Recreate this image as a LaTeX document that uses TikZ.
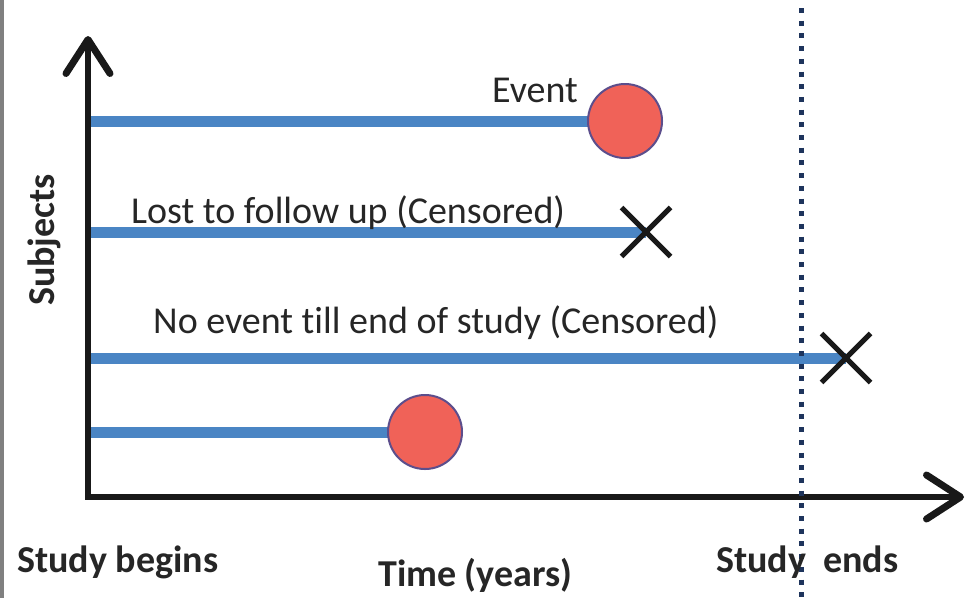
\documentclass[tikz,border=0pt]{standalone}
\usepackage{fontspec}
\setmainfont{Carlito}[Ligatures={NoCommon}]
\usetikzlibrary{arrows.meta,shapes.misc}

\definecolor{lineblue}{RGB}{74,133,196}
\definecolor{evtfill}{RGB}{240,98,88}
\definecolor{evtedge}{RGB}{92,78,140}
\definecolor{dotblue}{RGB}{30,52,92}
\definecolor{axisblack}{RGB}{25,25,25}
\definecolor{framegray}{RGB}{128,128,128}

\tikzset{
  axisline/.style={draw=axisblack, line width=6pt,
    -{Straight Barb[length=34pt, width=44pt, line width=7pt, line cap=round, line join=round]}},
  subjline/.style={draw=lineblue, line width=11pt},
  eventdot/.style={circle, draw=evtedge, fill=evtfill, line width=2pt,
    minimum size=74pt, inner sep=0pt},
  censor/.style={cross out, draw=axisblack, line width=5pt,
    minimum size=44pt, inner sep=0pt},
  studyend/.style={draw=dotblue, line width=5pt, dash pattern=on 5pt off 7.7pt},
  lbl/.style={font=\fontsize{38}{42}\selectfont, text=black!85, inner sep=0pt, anchor=base west},
  boldlbl/.style={font=\fontsize{38}{42}\selectfont\bfseries, text=black!85, inner sep=0pt, anchor=base west}
}

\begin{document}
\begin{tikzpicture}[x=1pt, y=-1pt]
  \useasboundingbox (0,0) rectangle (973,598);
  \fill[white] (0,0) rectangle (973,598);
  % left frame edge
  \fill[framegray] (0,0) rectangle (4,598);

  % axes
  \coordinate (origin) at (88,497);
  \coordinate (ytip) at (88,33);
  \coordinate (xtip) at (964,497);

  % subject time lines
  \coordinate (s1) at (88,121);
  \coordinate (s2) at (88,232);
  \coordinate (s3) at (88,358);
  \coordinate (s4) at (88,432);
  \coordinate (e1) at (625,121);
  \coordinate (e2) at (646,232);
  \coordinate (e3) at (846,358);
  \coordinate (e4) at (425,432);

  \draw[subjline] (s1) -- (e1);
  \draw[subjline] (s2) -- (e2);
  \draw[subjline] (s3) -- (e3);
  \draw[subjline] (s4) -- (e4);

  \draw[axisline] (origin) -- ([yshift=-3pt]ytip);
  \draw[axisline] ([xshift=-3pt]origin) -- (xtip);

  % end of study marker
  \coordinate (endtop) at (801,8);
  \coordinate (endbot) at (801,598);
  \draw[studyend] (endtop) -- (endbot);

  % outcomes
  \node[eventdot] (ev1) at (e1) {};
  \node[censor] (cx1) at (e2) {};
  \node[censor] (cx2) at (e3) {};
  \node[eventdot] (ev2) at (e4) {};

  % labels
  \node[lbl] (tevent) at (492,102) {Event};
  \node[lbl] (tlost) at (131,223) {Lost to follow up (Censored)};
  \node[lbl] (tnoev) at (153,333) {No event till end of study (Censored)};
  \node[boldlbl, rotate=90] (tsubj) at (54,306) {Subjects};
  \node[boldlbl] (tbegin) at (17,572) {Study begins};
  \node[boldlbl] (ttime) at (378,586) {Time (years)};
  \node[boldlbl] (tend) at (716,572) {Study~~ends};
\end{tikzpicture}
\end{document}
